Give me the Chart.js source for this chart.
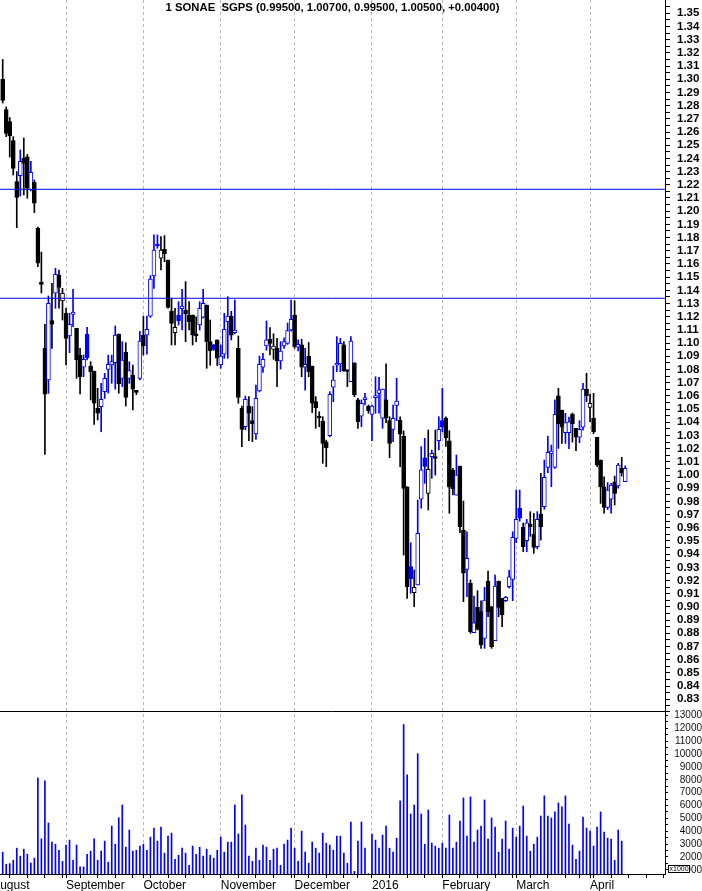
<!DOCTYPE html>
<html>
<head>
<meta charset="utf-8">
<title>SONAE SGPS</title>
<script src="https://cdn.jsdelivr.net/npm/chart.js@4.4.1/dist/chart.umd.min.js"></script>
<style>
  html, body { margin: 0; padding: 0; background: #fff; }
  #wrap { position: relative; width: 702px; height: 891px; }
</style>
</head>
<body>
<div id="wrap"><canvas id="stockChart"></canvas></div>
<script>
// SONAE SGPS daily candles, Aug 2015 - Apr 2016, with volume pane

const TITLE = '1 SONAE  SGPS (0.99500, 1.00700, 0.99500, 1.00500, +0.00400)';
const firstDay = '2015-08-06';
const holidays = ['2015-12-25', '2016-01-01', '2016-03-25', '2016-03-28'];
const monthNames = ['January', 'February', 'March', 'April', 'May', 'June', 'July',
    'August', 'September', 'October', 'November', 'December'];

const opens = [
    1.300, 1.277, 1.268, 1.2535, 1.2224, 1.2269, 1.2401, 1.2413, 1.2161, 1.2219,
    1.187, 1.1452, 1.096, 1.072, 1.117, 1.1378, 1.1516, 1.1319, 1.1226, 1.1054,
    1.1218, 1.1112, 1.091, 1.0817, 1.1067, 1.0826, 1.0788, 1.0506, 1.0518, 1.0632,
    1.0801, 1.0834, 1.0851, 1.1069, 1.0733, 1.093, 1.0733, 1.0758, 1.0632, 1.0733,
    1.1061, 1.1061, 1.1205, 1.1509, 1.1742, 1.1643, 1.1711, 1.163, 1.1243, 1.1079,
    1.1213, 1.1261, 1.1251, 1.1213, 1.1213, 1.1065, 1.1137, 1.1196, 1.1289, 1.1011,
    1.0986, 1.1024, 1.0834, 1.0917, 1.1162, 1.1205, 1.1079, 1.096, 1.0506, 1.0366,
    1.0523, 1.0412, 1.0311, 1.0637, 1.0817, 1.0978, 1.1029, 1.0953, 1.096, 1.0864,
    1.0978, 1.0998, 1.1099, 1.1213, 1.097, 1.0986, 1.0817, 1.0902, 1.0826, 1.0556,
    1.0437, 1.0409, 1.0252, 1.0298, 1.0665, 1.0832, 1.0842, 1.0986, 1.0788, 1.0707,
    1.0851, 1.0569, 1.0447, 1.0572, 1.0523, 1.046, 1.0587, 1.0619, 1.043, 1.0569,
    1.0412, 1.0346, 1.0528, 1.0417, 1.0296, 0.9911, 0.9305, 0.9108, 0.9166, 0.9816,
    1.0131, 0.9861, 1.0139, 1.0129, 1.026, 1.0412, 1.043, 1.026, 1.0038, 0.9848,
    1.0068, 0.9583, 0.9285, 0.9179, 0.8804, 0.8997, 0.8964, 0.8762, 0.9196, 0.9002,
    0.8744, 0.9196, 0.9065, 0.9047, 0.9153, 0.9209, 0.952, 0.9748, 0.9603, 0.9502,
    0.9628, 0.9553, 0.9456, 0.9704, 0.976, 1.0058, 1.0161, 1.0058, 1.0601, 1.0493,
    1.0321, 1.0321, 1.0462, 1.0354, 1.0286, 1.0362, 1.0652, 1.0513, 1.043, 1.0286,
    1.0114, 0.9911, 0.9755, 0.9816, 0.9949, 0.9917, 1.0051, 0.995
];
const highs = [
    1.315, 1.279, 1.271, 1.2565, 1.23, 1.2464, 1.2555, 1.243, 1.2378, 1.2237,
    1.188, 1.169, 1.1143, 1.1357, 1.1453, 1.1567, 1.1554, 1.1415, 1.1264, 1.1226,
    1.1408, 1.1112, 1.096, 1.091, 1.112, 1.0859, 1.0788, 1.0657, 1.0695, 1.0771,
    1.0909, 1.0909, 1.113, 1.1069, 1.1011, 1.1003, 1.0859, 1.0834, 1.064, 1.109,
    1.1205, 1.1205, 1.1512, 1.182, 1.182, 1.1807, 1.1815, 1.163, 1.134, 1.1263,
    1.1314, 1.1408, 1.1466, 1.1314, 1.1213, 1.12, 1.1314, 1.1408, 1.1289, 1.1175,
    1.099, 1.1024, 1.0986, 1.1226, 1.1352, 1.1241, 1.1327, 1.1054, 1.0523, 1.0599,
    1.0594, 1.0518, 1.0682, 1.0902, 1.0922, 1.1168, 1.1117, 1.1071, 1.1036, 1.1011,
    1.104, 1.1152, 1.1327, 1.1321, 1.1024, 1.1029, 1.096, 1.1004, 1.0826, 1.0594,
    1.048, 1.0442, 1.0265, 1.0632, 1.0826, 1.1049, 1.1036, 1.1011, 1.079, 1.1049,
    1.0851, 1.0581, 1.0569, 1.0619, 1.0531, 1.0531, 1.0745, 1.0741, 1.0652, 1.0842,
    1.0442, 1.0531, 1.0733, 1.0442, 1.0334, 0.9911, 0.9487, 0.928, 0.981, 1.0215,
    1.0278, 1.0341, 1.0189, 1.0341, 1.0442, 1.0657, 1.0442, 1.0336, 1.005, 1.0152,
    1.0068, 0.9803, 0.957, 0.9204, 0.9083, 0.9123, 0.9047, 0.9148, 0.9272, 0.9002,
    0.9242, 0.9196, 0.9065, 0.908, 0.9277, 0.957, 0.9886, 0.9886, 0.9636, 0.9664,
    0.9722, 0.9709, 0.9722, 1.0013, 1.0114, 1.0296, 1.0227, 1.0569, 1.0657, 1.0493,
    1.0468, 1.044, 1.047, 1.0354, 1.0412, 1.0695, 1.0771, 1.0614, 1.0619, 1.0286,
    1.0114, 0.9987, 0.9943, 0.9937, 0.9992, 1.0089, 1.0134, 1.007
];
const lows = [
    1.282, 1.2565, 1.241, 1.2274, 1.1875, 1.2115, 1.2123, 1.2098, 1.2153, 1.1989,
    1.158, 1.138, 1.0157, 1.0619, 1.096, 1.1264, 1.1264, 1.1175, 1.0834, 1.0927,
    1.1124, 1.0733, 1.0614, 1.0745, 1.0872, 1.0569, 1.0384, 1.0417, 1.0328, 1.058,
    1.0621, 1.0695, 1.065, 1.062, 1.067, 1.0523, 1.0695, 1.0493, 1.061, 1.072,
    1.091, 1.0917, 1.1195, 1.1415, 1.1719, 1.1554, 1.1617, 1.1264, 1.0986, 1.0986,
    1.1137, 1.1099, 1.1011, 1.1099, 1.0986, 1.101, 1.1099, 1.119, 1.0809, 1.0832,
    1.0945, 1.083, 1.0809, 1.0885, 1.0885, 1.1024, 1.107, 1.0544, 1.0215, 1.0343,
    1.026, 1.0253, 1.027, 1.063, 1.0778, 1.0946, 1.091, 1.0877, 1.0669, 1.0803,
    1.096, 1.099, 1.109, 1.096, 1.094, 1.0745, 1.0644, 1.0745, 1.0473, 1.0354,
    1.0366, 1.0089, 1.0063, 1.0291, 1.0556, 1.0783, 1.0783, 1.0785, 1.067, 1.0707,
    1.0594, 1.0354, 1.0366, 1.0531, 1.0468, 1.026, 1.0468, 1.0468, 1.0354, 1.0397,
    1.0131, 1.0252, 1.0412, 1.0063, 0.9393, 0.9065, 0.9103, 0.9001, 0.9166, 0.9748,
    0.9937, 0.9735, 0.9975, 1.0, 1.019, 1.0328, 1.0216, 0.971, 0.985, 0.9848,
    0.9563, 0.904, 0.9077, 0.88, 0.8804, 0.8825, 0.8686, 0.8686, 0.8926, 0.8686,
    0.8744, 0.8926, 0.885, 0.904, 0.9143, 0.9047, 0.9487, 0.965, 0.9419, 0.9418,
    0.9535, 0.9406, 0.944, 0.9507, 0.974, 1.0017, 0.9911, 1.005, 1.0202, 1.024,
    1.024, 1.02, 1.025, 1.0185, 1.0245, 1.034, 1.0556, 1.0404, 1.0313, 1.0063,
    0.9785, 0.971, 0.9738, 0.971, 0.9773, 0.99, 0.9992, 0.995
];
const closes = [
    1.284, 1.259, 1.257, 1.2325, 1.2105, 1.2378, 1.2363, 1.2174, 1.2295, 1.206,
    1.1605, 1.1445, 1.0612, 1.1302, 1.1143, 1.1522, 1.1423, 1.1378, 1.1036, 1.1143,
    1.1236, 1.0872, 1.0745, 1.0877, 1.0889, 1.0783, 1.0544, 1.0468, 1.0574, 1.0733,
    1.0839, 1.0859, 1.1061, 1.069, 1.0872, 1.0589, 1.0791, 1.065, 1.0627, 1.1016,
    1.0978, 1.1105, 1.1486, 1.1706, 1.1736, 1.1706, 1.1676, 1.1271, 1.115, 1.112,
    1.117, 1.1281, 1.1221, 1.1162, 1.1061, 1.1055, 1.1264, 1.1302, 1.1011, 1.0942,
    1.0953, 1.0885, 1.0902, 1.1105, 1.1205, 1.1061, 1.1099, 1.0589, 1.0346, 1.0574,
    1.0468, 1.0387, 1.0581, 1.0839, 1.0877, 1.1024, 1.0998, 1.0978, 1.0864, 1.094,
    1.1011, 1.1094, 1.118, 1.0973, 1.099, 1.0817, 1.0839, 1.0783, 1.0544, 1.051,
    1.0432, 1.024, 1.0207, 1.0612, 1.072, 1.0839, 1.0998, 1.079, 1.0785, 1.1016,
    1.0607, 1.0404, 1.0544, 1.0577, 1.0487, 1.0523, 1.0589, 1.0645, 1.0652, 1.043,
    1.024, 1.043, 1.0561, 1.0309, 0.9899, 0.9153, 0.9214, 0.9149, 0.9558, 1.004,
    1.0065, 1.0043, 1.0165, 1.0125, 1.0346, 1.0362, 1.0283, 0.9907, 0.9895, 1.0,
    0.9608, 0.9255, 0.9368, 0.8812, 0.888, 0.883, 0.8711, 0.9052, 0.8964, 0.8698,
    0.9158, 0.8997, 0.8939, 0.9072, 0.9229, 0.9528, 0.9664, 0.9672, 0.9456, 0.9638,
    0.9608, 0.9452, 0.9664, 0.9608, 0.9983, 1.0172, 1.0182, 1.046, 1.0387, 1.0362,
    1.0397, 1.0404, 1.0387, 1.0286, 1.0346, 1.0652, 1.0601, 1.0543, 1.0329, 1.0076,
    0.9911, 0.9755, 0.9886, 0.9924, 0.9861, 1.0076, 1.0017, 1.005
];
// volume in shares (axis is shown in thousands)
const volumes = [
    2370, 1430, 1480, 1740, 2680, 2060, 2600, 2210, 1510, 1900,
    8150, 3410, 7920, 4640, 3150, 2990, 2520, 1660, 2920, 3310,
    1740, 2920, 1220, 1220, 2210, 2450, 3410, 1740, 2450, 3230,
    1590, 4400, 2990, 5050, 6040, 2760, 4090, 2450, 2520, 2840,
    2990, 2520, 3540, 4240, 3230, 4320, 2290, 3620, 3850, 1820,
    2130, 2680, 2290, 1350, 2840, 2210, 2760, 2060, 2600, 2130,
    1900, 2520, 3540, 2370, 3150, 3150, 6040, 3780, 6820, 4480,
    2060, 1660, 2680, 1740, 2920, 2760, 1740, 2600, 2680, 1350,
    2990, 3310, 4240, 2680, 1660, 4010, 2370, 1510, 3150, 2680,
    2290, 3850, 3070, 2920, 2520, 3620, 3620, 2290, 1510, 4710,
    880, 3230, 4710, 2680, 700, 3780, 3310, 2680, 3700, 4400,
    2680, 2370, 3460, 6360, 12300, 8390, 5340, 6040, 10030, 5340,
    2990, 5650, 3070, 2840, 2680, 3070, 2680, 5260, 2680, 3150,
    4790, 6590, 3620, 6670, 3150, 4090, 4400, 6430, 3380, 5030,
    4320, 2370, 3380, 4790, 2600, 4240, 3540, 4400, 5960, 3620,
    2450, 2990, 3540, 5180, 6750, 5180, 5030, 5500, 6200, 5890,
    6750, 4560, 2920, 1820, 2450, 5100, 4240, 4010, 2840, 4320,
    5500, 3930, 3460, 3380, 1740, 4090, 3230, null
];
// horizontal resistance levels
const levels = [1.2166, 1.134];

// axis ranges
const xMin = -0.768;
const xMax = 188.31;
const priceMin = 0.8211;
const priceMax = 1.3601;
const volMin = 670;
const volMax = 13352;

const FONT = "'Liberation Sans', Arial, sans-serif";
const BLUE = '#0000ff';
const BLACK = '#000000';
const GRIDGRAY = '#b8b8b8';

// trading calendar: weekdays minus exchange holidays
function tradingDays(fromIso, count) {
    const out = [];
    const d = new Date(fromIso + 'T00:00:00Z');
    while (out.length < count) {
        const dow = d.getUTCDay();
        const iso = d.toISOString().slice(0, 10);
        if (dow !== 0 && dow !== 6 && !holidays.includes(iso)) out.push(iso);
        d.setUTCDate(d.getUTCDate() + 1);
    }
    return out;
}

const calendar = tradingDays(firstDay.slice(0, 8) + '01', 260);
const offset = calendar.indexOf(firstDay);
const monthTicks = {};
const weekTicks = [];
calendar.forEach((iso, k) => {
    const v = k - offset;
    if (v > xMax) return;
    const prev = calendar[k - 1];
    const d = new Date(iso + 'T00:00:00Z');
    // month labels only where there is data
    if ((!prev || prev.slice(0, 7) !== iso.slice(0, 7)) && v < closes.length) {
        const m = d.getUTCMonth();
        monthTicks[v] = m === 0 ? String(d.getUTCFullYear()) : monthNames[m];
    }
    if (prev && d.getUTCDay() < new Date(prev + 'T00:00:00Z').getUTCDay()) weekTicks.push(v);
});
const xTickValues = [...new Set([...Object.keys(monthTicks).map(Number), ...weekTicks, xMax])]
    .sort((a, b) => a - b);

const priceTickValues = [priceMin];
for (let k = 165; k <= 271; k++) priceTickValues.push(k / 200);
const volTickValues = [];
for (let k = 2; k <= 26; k++) volTickValues.push(k * 500);

// candle colours: blue when close is above the previous close, black otherwise;
// hollow when close is above the open
const candleColor = closes.map((c, i) => (i > 0 && c > closes[i - 1] ? BLUE : BLACK));
const bodyFill = closes.map((c, i) => (c < opens[i] ? candleColor[i] : '#ffffff'));

function zeroPadding(s) {
    s.paddingLeft = 0;
    s.paddingRight = 0;
    s.paddingTop = 0;
    s.paddingBottom = 0;
}

const unitBox = {
    id: 'unitBox',
    afterDraw(chart) {
        const s = chart.scales.yVol;
        const y = s.getPixelForValue(1000);
        const ctx = chart.ctx;
        ctx.save();
        ctx.fillStyle = '#fff';
        ctx.fillRect(s.left + 3, y - 4.5, 21, 7);
        ctx.strokeStyle = '#000';
        ctx.lineWidth = 1;
        ctx.strokeRect(Math.round(s.left + 3) + 0.5, Math.round(y - 4.5) + 0.5, 21, 7);
        ctx.fillStyle = '#000';
        ctx.font = '7px ' + FONT;
        ctx.textBaseline = 'middle';
        ctx.fillText('x1000', s.left + 4.5, y - 0.5);
        ctx.restore();
    }
};

Chart.defaults.font.family = FONT;

new Chart(document.getElementById('stockChart'), {
    type: 'bar',
    data: {
        datasets: [
            {
                label: 'Wick',
                data: closes.map((c, i) => ({ x: i, y: [lows[i], highs[i]] })),
                xAxisID: 'x',
                yAxisID: 'y',
                backgroundColor: candleColor,
                borderWidth: 0,
                barThickness: 1,
                grouped: false,
                order: 3,
            },
            {
                label: 'Body',
                data: closes.map((c, i) => ({ x: i, y: [Math.min(opens[i], c), Math.max(opens[i], c)] })),
                xAxisID: 'x',
                yAxisID: 'y',
                backgroundColor: bodyFill,
                borderColor: candleColor,
                borderWidth: 1,
                borderSkipped: false,
                barThickness: 4,
                minBarLength: 2,
                grouped: false,
                order: 2,
            },
            {
                label: 'Volume',
                data: volumes.map((v, i) => ({ x: i, y: v })),
                xAxisID: 'x',
                yAxisID: 'yVol',
                backgroundColor: BLUE,
                borderWidth: 0,
                barThickness: 1,
                grouped: false,
                clip: 0,
                order: 2,
            },
            ...levels.map(level => ({
                type: 'line',
                label: 'Level ' + level,
                data: [{ x: xMin, y: level }, { x: xMax, y: level }],
                xAxisID: 'x',
                yAxisID: 'y',
                borderColor: '#0000e6',
                borderWidth: 1,
                pointRadius: 0,
                order: 1,
            })),
        ],
    },
    options: {
        responsive: true,
        maintainAspectRatio: false,
        animation: false,
        events: [],
        layout: { padding: 0 },
        plugins: {
            legend: { display: false },
            tooltip: { enabled: false },
        },
        scales: {
            x: {
                type: 'linear',
                position: 'bottom',
                min: xMin,
                max: xMax,
                bounds: 'data',
                offset: false,
                afterBuildTicks: s => { s.ticks = xTickValues.map(v => ({ value: v })); },
                afterFit: s => { s.height = 17; zeroPadding(s); },
                ticks: {
                    autoSkip: false,
                    maxRotation: 0,
                    align: 'start',
                    padding: 0,
                    color: '#000',
                    font: { size: 12 },
                    callback: v => monthTicks[v] || '',
                },
                grid: {
                    offset: false,
                    drawOnChartArea: true,
                    tickLength: 4,
                    color: c => (c.tick && (monthTicks[c.tick.value] || c.tick.value === xMax) ? GRIDGRAY : 'transparent'),
                    tickColor: c => (c.tick && c.tick.value !== xMax ? '#000' : 'transparent'),
                },
                border: { display: true, color: '#000', dash: [3, 3] },
            },
            xTop: {
                type: 'linear',
                position: 'top',
                min: xMin,
                max: xMax,
                bounds: 'data',
                afterFit: s => { s.height = 0; zeroPadding(s); },
                ticks: { display: false },
                grid: { display: false },
                border: { display: false },
                title: {
                    display: true,
                    text: TITLE,
                    color: '#000',
                    font: { size: 11.3, weight: 'bold' },
                    padding: { top: 1, bottom: 0 },
                },
            },
            y: {
                type: 'linear',
                position: 'right',
                stack: 'panes',
                stackWeight: 711,
                min: priceMin,
                max: priceMax,
                bounds: 'data',
                beginAtZero: false,
                afterBuildTicks: s => { s.ticks = priceTickValues.map(v => ({ value: v })); },
                afterFit: s => { s.width = 37; zeroPadding(s); },
                ticks: {
                    autoSkip: false,
                    padding: 7,
                    color: '#000',
                    font: { size: 11.5, weight: 'bold' },
                    callback: v => (v !== priceMin && Math.round(v * 200) % 2 === 0 ? v.toFixed(2) : ''),
                },
                grid: {
                    drawOnChartArea: true,
                    tickLength: 5,
                    color: c => (c.tick && c.tick.value === priceMin ? '#000' : 'transparent'),
                    tickColor: '#000',
                },
                border: { display: true, color: '#000' },
            },
            yVol: {
                type: 'linear',
                position: 'right',
                stack: 'panes',
                stackWeight: 163,
                min: volMin,
                max: volMax,
                bounds: 'data',
                beginAtZero: false,
                afterBuildTicks: s => { s.ticks = volTickValues.map(v => ({ value: v })); },
                afterFit: s => { s.width = 37; zeroPadding(s); },
                ticks: {
                    autoSkip: false,
                    padding: 4,
                    crossAlign: 'far',
                    color: '#111',
                    font: { size: 10 },
                    callback: v => (v % 1000 === 0 ? String(v) : ''),
                },
                grid: {
                    drawOnChartArea: false,
                    tickLength: 3,
                    tickColor: '#000',
                },
                border: { display: true, color: '#000' },
            },
        },
    },
    plugins: [unitBox],
});
</script>
</body>
</html>
